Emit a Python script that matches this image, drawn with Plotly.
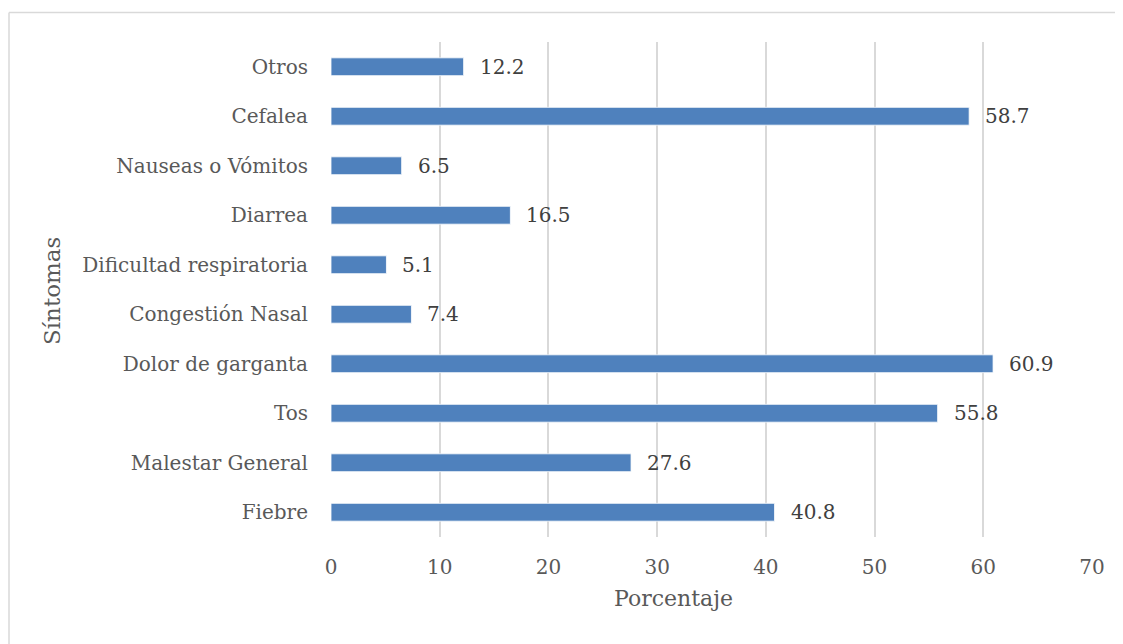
import plotly.graph_objects as go

categories = ["Fiebre", "Malestar General", "Tos", "Dolor de garganta", "Congestión Nasal",
              "Dificultad respiratoria", "Diarrea", "Nauseas o Vómitos", "Cefalea", "Otros"]
values = [40.8, 27.6, 55.8, 60.9, 7.4, 5.1, 16.5, 6.5, 58.7, 12.2]
x_ticks = [0, 10, 20, 30, 40, 50, 60, 70]

FONT = "DejaVu Serif"
TXT = "#595959"

# page body has an 8px margin; figure is sized/offset to compensate
PL, PR, PT, PB = 331, 1092, 42, 537   # plot area in page pixels
OFF = 8
W, H = 1123, 644 - OFF
PW, PH = PR - PL, PB - PT

def px(x):
    return (x - PL) / PW

def py(y):
    return (PB - y) / PH

fig = go.Figure()
fig.add_trace(go.Bar(
    x=values, y=categories, orientation="h",
    marker=dict(color="#4F81BD", line=dict(color="#FFFFFF", width=0.8)),
    width=0.36, hoverinfo="x+y"))

for v, c in zip(values, categories):
    fig.add_annotation(x=v, y=c, text=f"{v:.1f}", showarrow=False, xanchor="left",
                       xshift=14, font=dict(family=FONT, size=20, color="#404040"))

fig.add_annotation(xref="paper", yref="paper", x=px(673), y=py(598),
                   text="Porcentaje", showarrow=False, xanchor="center", yanchor="middle",
                   font=dict(family=FONT, size=22, color=TXT))
fig.add_annotation(xref="paper", yref="paper", x=px(52), y=py(291),
                   text="Síntomas", showarrow=False, textangle=-90, xanchor="center", yanchor="middle",
                   font=dict(family=FONT, size=23, color=TXT))

# chart-area frame (top and left edges visible)
fig.add_shape(type="line", xref="paper", yref="paper", x0=px(OFF + 1), x1=px(1140),
              y0=py(12.5), y1=py(12.5), line=dict(color="#D9D9D9", width=1.5))
fig.add_shape(type="line", xref="paper", yref="paper", x0=px(OFF + 1), x1=px(OFF + 1),
              y0=py(12.5), y1=py(650), line=dict(color="#D9D9D9", width=1.5))

fig.update_layout(
    width=W, height=H,
    margin=dict(l=PL - OFF, r=W - (PR - OFF), t=PT - OFF, b=H - (PB - OFF)),
    paper_bgcolor="white", plot_bgcolor="white",
    showlegend=False, bargap=0.64,
    font=dict(family=FONT, size=20, color=TXT),
    xaxis=dict(range=[0, 70], tickvals=x_ticks, ticktext=[str(t) for t in x_ticks],
               showgrid=True, gridcolor="#D9D9D9", gridwidth=1.5, zeroline=False,
               showline=False, ticks="", ticklabelstandoff=16,
               tickfont=dict(family=FONT, size=20, color=TXT)),
    yaxis=dict(showgrid=False, zeroline=False, showline=False, ticks="",
               ticklabelstandoff=22, tickfont=dict(family=FONT, size=20, color=TXT)),
)

fig.write_html("out.html")
